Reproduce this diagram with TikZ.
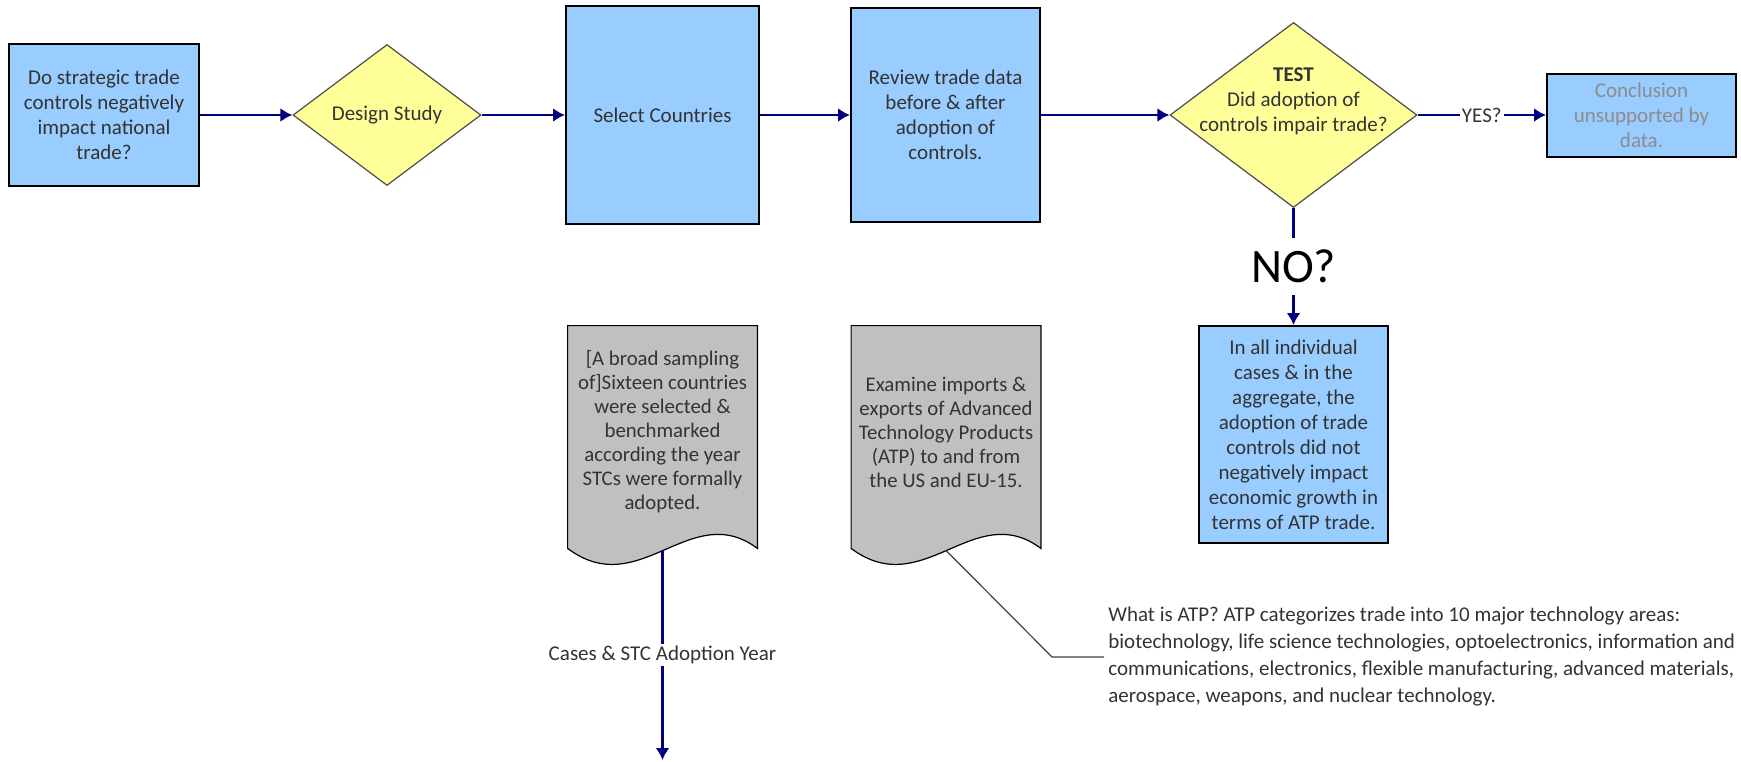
\documentclass[tikz,border=0pt]{standalone}
\usepackage{fontspec}
\setmainfont{Carlito}
\usepackage{tikz}
\usetikzlibrary{shapes}
\usetikzlibrary{arrows.meta}
\usetikzlibrary{calc}
\usetikzlibrary{backgrounds}

\definecolor{boxblue}{HTML}{99CCFF}
\definecolor{diayellow}{HTML}{FFFF99}
\definecolor{docgray}{HTML}{C0C0C0}
\definecolor{flownavy}{HTML}{000080}

\tikzset{
	bluebox/.style={draw=black, line width=1pt, fill=boxblue, align=center, inner sep=2pt, text=black!80, font=\fontsize{10.5}{12.5}\selectfont},
	decision/.style={draw=black!70, line width=0.6pt, fill=diayellow, shape=diamond, inner sep=0pt},
	docbox/.style={align=center, inner sep=0pt, minimum width=94.5pt, minimum height=101pt, text=black!80, font=\fontsize{10.4}{12}\selectfont},
	docshape/.style={draw=black, line width=0.6pt, fill=docgray},
	flow/.style={draw=flownavy, line width=1.3pt, -{Latex[length=6pt,width=7pt]}},
	onflow/.style={fill=white, inner sep=1pt, text=black!80, font=\fontsize{10.5}{12.5}\selectfont},
	callout/.style={draw=black!75, line width=0.6pt}
}

\begin{document}
\begin{tikzpicture}[x=0.5pt, y=-0.5pt]
	% Batas gambar
	\useasboundingbox (0,0) rectangle (1741,761);
	
	%% BARIS ATAS %%
	\node[bluebox, minimum width=95pt, minimum height=71pt] (question) at (104,115) {Do strategic trade\\controls negatively\\impact national\\trade?};
	\node[decision, minimum width=94pt, minimum height=70.5pt, label={[font=\fontsize{10.5}{12.5}\selectfont, text=black!80]center:Design Study}] (design) at (387,115) {};
	\node[bluebox, minimum width=96.5pt, minimum height=109pt] (select) at (662.5,115) {Select Countries};
	\node[bluebox, minimum width=94.5pt, minimum height=107pt] (review) at (945.5,115) {Review trade data\\before \& after\\adoption of\\controls.};
	\node[decision, minimum width=123.5pt, minimum height=92.5pt, label={[align=center, yshift=6.75pt, font=\fontsize{10.5}{12.5}\selectfont, text=black!80]center:{\textbf{TEST}\\Did adoption of\\controls impair trade?}}] (test) at (1293.5,115) {};
	\node[bluebox, minimum width=94.5pt, minimum height=41.5pt, text=black!45] (concl) at (1641.5,115) {Conclusion\\unsupported by\\data.};
	
	% Hubungkan baris atas
	\draw[flow] (question) -- (design);
	\draw[flow] (design) -- (select);
	\draw[flow] (select) -- (review);
	\draw[flow] (review) -- (test);
	\draw[flow] (test) -- node[onflow] {YES?} (concl);
	%% AKHIR BARIS ATAS %%
	
	%% CABANG NO %%
	\node[bluebox, minimum width=94.5pt, minimum height=108.5pt] (result) at (1293.5,434.5) {In all individual\\cases \& in the\\aggregate, the\\adoption of trade\\controls did not\\negatively impact\\economic growth in\\terms of ATP trade.};
	\draw[flow] (test) -- node[onflow, inner sep=0pt, minimum height=28.5pt, text=black, font=\fontsize{24}{28}\selectfont] {NO?} (result);
	%% AKHIR CABANG NO %%
	
	%% DOKUMEN %%
	\node[docbox] (sample) at (662.5,427) {};
	\node[docbox] (examine) at (946,427) {};
	\node[docbox, minimum height=0pt] (sampletext) at (662.5,432) {[A broad sampling\\of]Sixteen countries\\were selected \&\\benchmarked\\according the year\\STCs were formally\\adopted.};
	\node[docbox, minimum height=0pt] (examtext) at (946,432) {Examine imports \&\\exports of Advanced\\Technology Products\\(ATP) to and from\\the US and EU-15.};
	
	% Bentuk dokumen di belakang teks
	\begin{pgfonlayer}{background}
		\foreach \doc in {sample, examine} {
			\draw[docshape] (\doc.north west) -- ($(\doc.south west)+(0,20)$)
				.. controls +(72,54) and +(-67,-50) .. ($(\doc.south east)+(0,20)$)
				-- (\doc.north east) -- cycle;
		}
	\end{pgfonlayer}
	
	% Titik pada gelombang bawah
	\coordinate (samplewave) at ($(sample.south)+(0,22)$);
	\coordinate (examwave) at ($(examine.south)+(0,22)$);
	\coordinate (casesend) at (662.5,760);
	\draw[flow] (samplewave) -- node[onflow] {Cases \& STC Adoption Year} (casesend);
	%% AKHIR DOKUMEN %%
	
	%% CATATAN ATP %%
	\node[anchor=west, align=left, inner sep=2pt, text=black!80, font=\fontsize{10.5}{13.5}\selectfont] (atpnote) at (1104,657) {What is ATP? ATP categorizes trade into 10 major technology areas:\\biotechnology, life science technologies, optoelectronics, information and\\communications, electronics, flexible manufacturing, advanced materials,\\aerospace, weapons, and nuclear technology.};
	\coordinate (notebend) at (1052,657);
	\draw[callout] (examwave) -- (notebend) -- (notebend -| atpnote.west);
	%% AKHIR CATATAN ATP %%
\end{tikzpicture}
\end{document}
